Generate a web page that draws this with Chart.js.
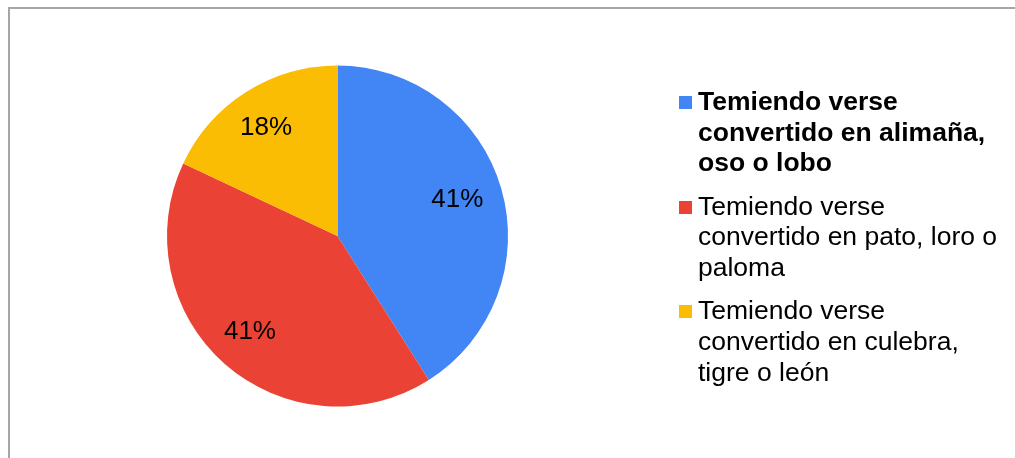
<!DOCTYPE html>
<html>
<head>
<meta charset="utf-8">
<script src="https://cdn.jsdelivr.net/npm/chart.js@4"></script>
<style>
    body { margin: 0; background: #fff; }
    #wrap { position: relative; width: 1015px; height: 458px; overflow: hidden; font-family: "Liberation Sans", Arial, sans-serif; }
    #frame { position: absolute; left: 8px; top: 7px; width: 1100px; height: 600px; border-top: 2px solid #a6a6a6; border-left: 2px solid #a6a6a6; }
    #chart { position: absolute; left: 0; top: 0; }
    #legend { position: absolute; left: 679px; top: 86px; display: flex; flex-direction: column; gap: 12.5px; }
    .item { position: relative; padding-left: 19px; font-size: 26.5px; line-height: 30.7px; color: #000; white-space: nowrap; }
    .box { position: absolute; left: 0; top: 10px; width: 13px; height: 13px; }
</style>
</head>
<body>
<div id="wrap">
    <div id="frame"></div>
    <canvas id="chart" width="1015" height="458"></canvas>
    <div id="legend"></div>
</div>
<script>
// data
const labels = [
    ['Temiendo verse', 'convertido en alimaña,', 'oso o lobo'],
    ['Temiendo verse', 'convertido en pato, loro o', 'paloma'],
    ['Temiendo verse', 'convertido en culebra,', 'tigre o león']
];
const values = [41, 41, 18];
const colors = ['#4285F4', '#EA4335', '#FBBC04'];
const boldItem = 0;

// legend in html so the lines wrap like the original
const legend = document.getElementById('legend');
labels.forEach((lines, i) => {
    const item = document.createElement('div');
    item.className = 'item';
    if (i === boldItem) item.style.fontWeight = 'bold';
    const box = document.createElement('span');
    box.className = 'box';
    box.style.background = colors[i];
    item.appendChild(box);
    item.insertAdjacentHTML('beforeend', lines.join('<br>'));
    legend.appendChild(item);
});

// percent text inside each slice
const percentLabels = {
    id: 'percentLabels',
    afterDatasetsDraw(chart) {
        const ctx = chart.ctx;
        const total = values.reduce((a, b) => a + b, 0);
        chart.getDatasetMeta(0).data.forEach((arc, i) => {
            const mid = (arc.startAngle + arc.endAngle) / 2;
            const r = arc.outerRadius * 0.75;
            const x = arc.x + Math.cos(mid) * r - 3;
            const y = arc.y + Math.sin(mid) * r;
            ctx.save();
            ctx.font = '26px "Liberation Sans", Arial, sans-serif';
            ctx.fillStyle = '#000';
            ctx.textAlign = 'center';
            ctx.textBaseline = 'middle';
            ctx.fillText(Math.round(values[i] / total * 100) + '%', x, y);
            ctx.restore();
        });
    }
};

new Chart(document.getElementById('chart'), {
    type: 'pie',
    data: {
        labels: labels.map(l => l.join(' ')),
        datasets: [{
            data: values,
            backgroundColor: colors,
            borderWidth: 0,
            hoverOffset: 0
        }]
    },
    options: {
        responsive: false,
        animation: false,
        layout: { padding: { left: 167, top: 65, right: 507, bottom: 51 } },
        plugins: {
            legend: { display: false },
            tooltip: { enabled: false }
        }
    },
    plugins: [percentLabels]
});
</script>
</body>
</html>
